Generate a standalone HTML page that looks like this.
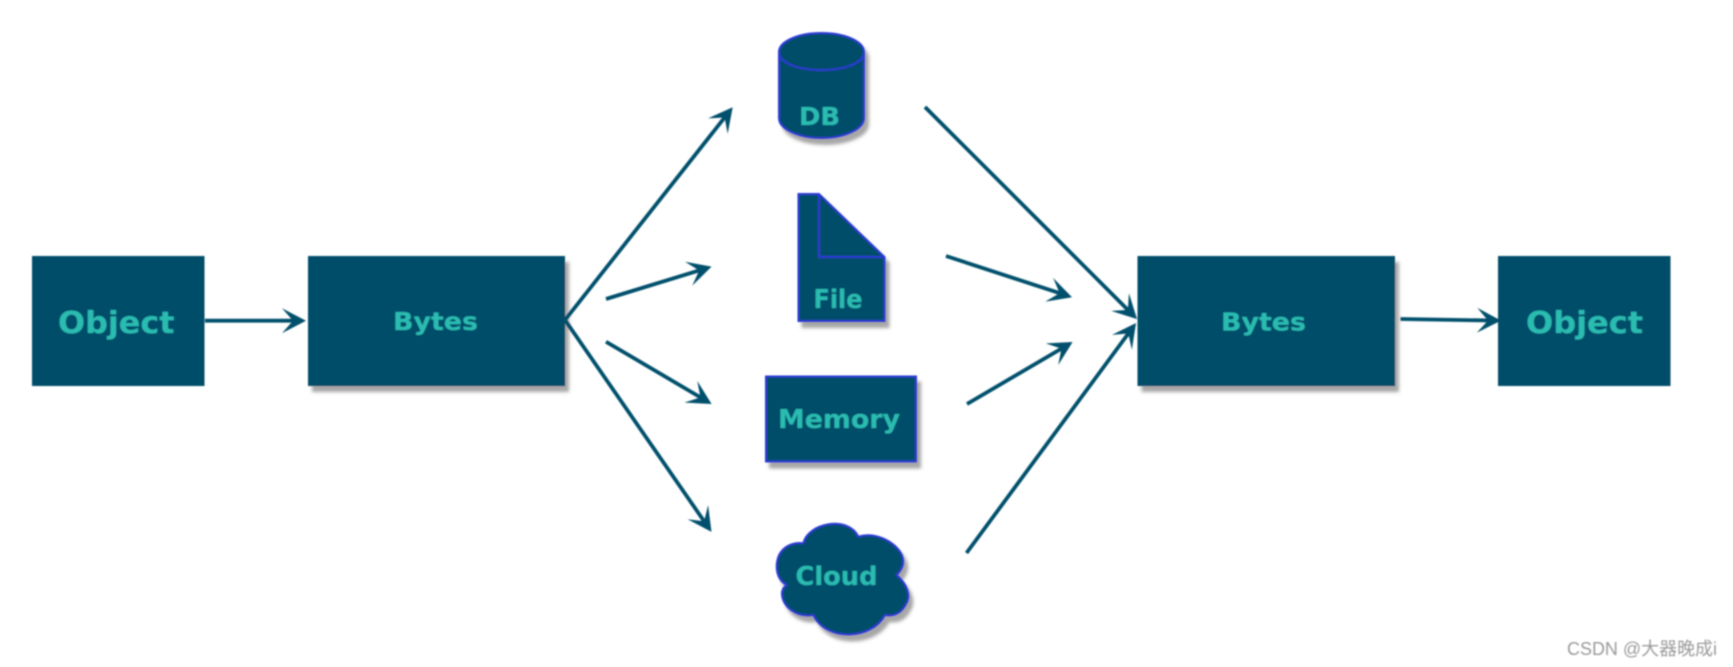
<!DOCTYPE html>
<html>
<head>
<meta charset="utf-8">
<style>
html,body{margin:0;padding:0;background:#fff;width:1733px;height:667px;overflow:hidden}
svg{display:block}
.t{font-family:"DejaVu Sans","Liberation Sans",sans-serif;font-weight:bold;fill:#2bbcb0}
</style>
</head>
<body>
<svg width="1733" height="667" viewBox="0 0 1733 667" xmlns="http://www.w3.org/2000/svg">
<defs>
<filter id="soft" filterUnits="userSpaceOnUse" x="0" y="0" width="1733" height="667"><feGaussianBlur stdDeviation="0.8"/></filter>
<filter id="sh" x="-10%" y="-10%" width="125%" height="125%"><feDropShadow dx="4" dy="6" stdDeviation="1.5" flood-color="#777" flood-opacity="0.65"/></filter>
<marker id="a" markerUnits="userSpaceOnUse" markerWidth="24" markerHeight="25" refX="14" refY="12.5" orient="auto">
<polygon points="0,0 24,12.5 0,25 11,12.5" fill="#05506c"/>
</marker>
</defs>
<g filter="url(#soft)">
<g fill="#034d6a">
<rect x="32" y="256" width="172.5" height="130"/>
<rect x="308" y="256" width="257" height="130" filter="url(#sh)"/>
<rect x="1137.5" y="256" width="257.5" height="130" filter="url(#sh)"/>
<rect x="1498" y="256" width="172.5" height="130"/>
</g>
<g stroke="#05506c" stroke-width="3.8" fill="none">
<line x1="205" y1="320.7" x2="296" y2="320.7" marker-end="url(#a)"/>
<line x1="565" y1="320" x2="726.5" y2="115.1" marker-end="url(#a)"/>
<line x1="606" y1="299" x2="702" y2="269.6" marker-end="url(#a)"/>
<line x1="606" y1="341.7" x2="703" y2="398.9" marker-end="url(#a)"/>
<line x1="565" y1="320" x2="705.8" y2="523.7" marker-end="url(#a)"/>
<line x1="925" y1="107" x2="1130" y2="312" marker-end="url(#a)"/>
<line x1="946" y1="256" x2="1062.5" y2="294.1" marker-end="url(#a)"/>
<line x1="967" y1="404" x2="1064" y2="347.1" marker-end="url(#a)"/>
<line x1="966.5" y1="553" x2="1130.1" y2="331.1" marker-end="url(#a)"/>
<line x1="1400.5" y1="319" x2="1491" y2="320.5" marker-end="url(#a)"/>
</g>
<g fill="#034d6a" stroke="#2a38d6" stroke-width="2">
<path d="M779 52 C779 41.5 798 33 821.5 33 C845 33 864 41.5 864 52 V118 C864 129 845 138 821.5 138 C798 138 779 129 779 118 Z" filter="url(#sh)"/>
<path d="M779 52 C779 63 798 70 821.5 70 C845 70 864 63 864 52" fill="none"/>
<path d="M798.5 194 H819 L884.5 257 V321 H798.5 Z" filter="url(#sh)"/>
<path d="M819 194 V257 H884.5" fill="none"/>
<rect x="766" y="376.5" width="150" height="85" filter="url(#sh)"/>
<path d="M803.3 543.3 C808 523 848 515 858.3 536.7 C880 530 903 548 903 560 C904 566 900 572 896.7 575 C908 585 911 596 906 604 C902 612 895 617 885 615 C872 640 826 642 813.3 615 C796 618 781 606 782 592 C783 588 784 587 786.7 585 C774 578 775 560 781 552 C786 545 795 542 803.3 543.3 Z" filter="url(#sh)"/>
</g>
<text class="t" x="58" y="333" font-size="30" textLength="116.5" lengthAdjust="spacingAndGlyphs">Object</text>
<text class="t" x="393" y="330" font-size="25" textLength="85" lengthAdjust="spacingAndGlyphs">Bytes</text>
<text class="t" x="1221" y="330.5" font-size="25" textLength="85" lengthAdjust="spacingAndGlyphs">Bytes</text>
<text class="t" x="1526" y="333" font-size="30" textLength="117" lengthAdjust="spacingAndGlyphs">Object</text>
<text class="t" x="799" y="125" font-size="25" textLength="41" lengthAdjust="spacingAndGlyphs">DB</text>
<text class="t" x="813.5" y="308" font-size="26" textLength="49" lengthAdjust="spacingAndGlyphs">File</text>
<text class="t" x="778" y="428" font-size="26" textLength="122" lengthAdjust="spacingAndGlyphs">Memory</text>
<text class="t" x="795.5" y="585" font-size="26" textLength="82" lengthAdjust="spacingAndGlyphs">Cloud</text>
<text x="1567" y="655" font-size="18" fill="#9a9a9a" textLength="150" lengthAdjust="spacingAndGlyphs" font-family="'Liberation Sans','Noto Sans CJK SC',sans-serif">CSDN @大器晚成i</text>
</g>
</svg>
</body>
</html>
